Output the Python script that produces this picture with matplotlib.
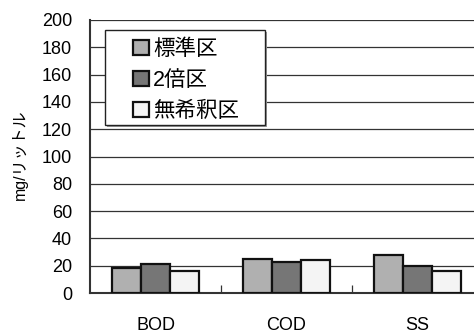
import matplotlib
matplotlib.use("Agg")
import matplotlib.pyplot as plt
from matplotlib.patches import Patch, Rectangle
from matplotlib.ticker import FixedLocator
import numpy as np

plt.rcParams['font.family'] = ['Liberation Sans', 'Noto Sans CJK JP', 'DejaVu Sans']

# water-quality indicators and measured concentrations (mg/L)
categories = ["BOD", "COD", "SS"]
series_names = ["標準区", "2倍区", "無希釈区"]
standard = [18, 25, 28]
double = [21, 23, 20]
undiluted = [16, 24, 16]
series_values = [standard, double, undiluted]
series_colors = ["#b0b0b0", "#767676", "#f4f4f4"]
yticks = [0, 20, 40, 60, 80, 100, 120, 140, 160, 180, 200]

W, H = 474, 330
fig = plt.figure(figsize=(W / 100, H / 100), dpi=100)
ax = fig.add_axes([90 / W, 37 / H, 393 / W, 273 / H])

x = np.arange(len(categories))
bw = 0.22
for i, (vals, col) in enumerate(zip(series_values, series_colors)):
    ax.bar(x + (i - 1) * bw, vals, width=bw, color=col, edgecolor="#111111",
           linewidth=1.6, zorder=3, label=series_names[i])

ax.set_xlim(-0.5, len(categories) - 0.5)
ax.set_ylim(0, 200)
ax.set_yticks(yticks)
ax.set_xticks(x)
ax.set_xticklabels(categories)
ax.xaxis.set_minor_locator(FixedLocator([0.5, 1.5]))
ax.tick_params(axis="x", which="major", length=0, pad=17, labelsize=13)
ax.tick_params(axis="x", which="minor", direction="in", length=6, width=0.9,
               color="#333333")
ax.tick_params(axis="y", length=0, pad=13, labelsize=13)

ax.yaxis.grid(True, color="#333333", linewidth=0.9, zorder=0)
ax.set_axisbelow(True)
for s in ("top", "right"):
    ax.spines[s].set_visible(False)
for s in ("left", "bottom"):
    ax.spines[s].set_color("#333333")
    ax.spines[s].set_linewidth(1.5)

fig.text(20 / W, 1 - 155 / H, "mg/リットル", rotation=90, ha="center",
         va="center", fontsize=11.5)

# legend box with a soft drop shadow, drawn in figure pixels
bx0, by0, bx1, by1 = 105, 30, 265, 125
shadow = Rectangle((bx0 + 2, H - by1 - 2), bx1 - bx0, by1 - by0,
                   transform=None, facecolor="#9a9a9a", edgecolor="none",
                   zorder=4, clip_on=False)
box = Rectangle((bx0, H - by1), bx1 - bx0, by1 - by0, transform=None,
                facecolor="white", edgecolor="#222222", linewidth=1.0,
                zorder=4.5, clip_on=False)
ax.add_artist(shadow)
ax.add_artist(box)

handles = [Patch(facecolor=c, edgecolor="#111111", linewidth=1.6)
           for c in series_colors]
leg = ax.legend(handles, series_names, loc="upper left",
                bbox_to_anchor=((bx0 + 22) / W, 1 - (by0 + 3) / H),
                bbox_transform=fig.transFigure, borderaxespad=0,
                fontsize=15.5, frameon=False,
                handlelength=0.7, handleheight=0.7, handletextpad=0.2,
                labelspacing=0.45, borderpad=0.3)
leg.set_zorder(5)

fig.savefig("out.png", dpi=100)
